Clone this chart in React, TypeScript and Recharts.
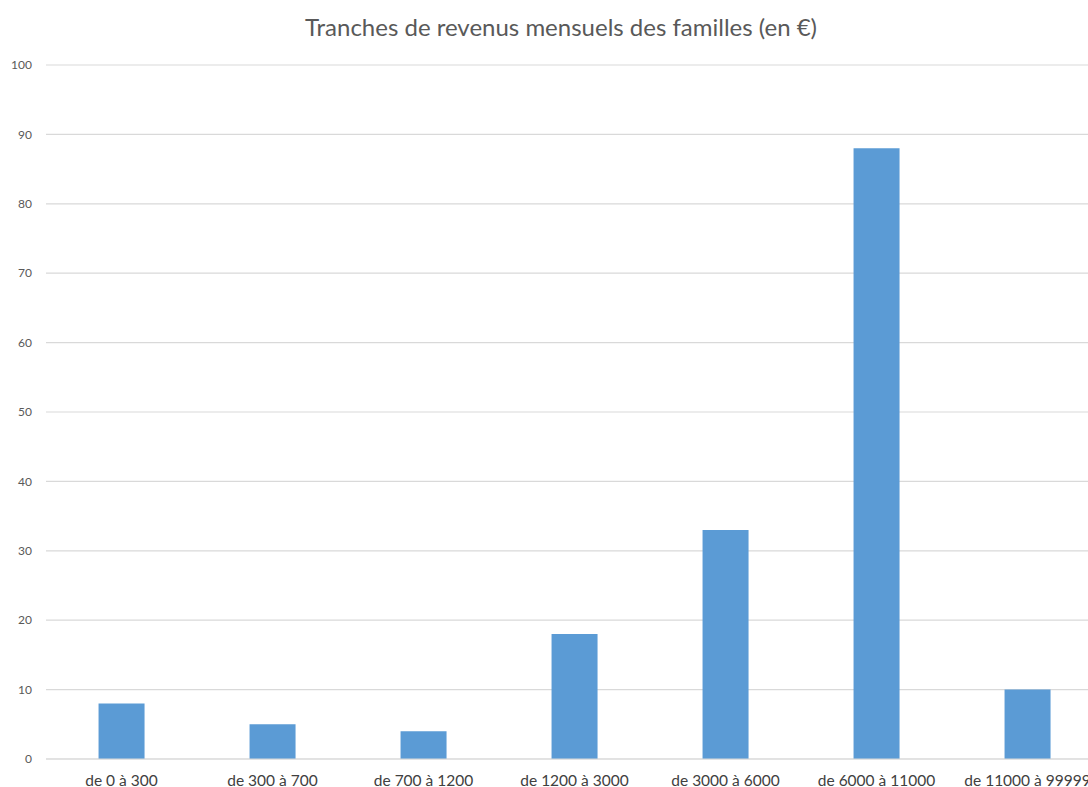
import React from "react";
import { BarChart, Bar, XAxis, YAxis, CartesianGrid } from "recharts";

const categories = [
  "de 0 à 300",
  "de 300 à 700",
  "de 700 à 1200",
  "de 1200 à 3000",
  "de 3000 à 6000",
  "de 6000 à 11000",
  "de 11000 à 99999",
];
const values = [8, 5, 4, 18, 33, 88, 10];
const yTicks = [0, 10, 20, 30, 40, 50, 60, 70, 80, 90, 100];
const title = "Tranches de revenus mensuels des familles (en €)";

const data = categories.map((c, i) => ({ name: c, value: values[i] }));

const FONT = "Lato, 'Open Sans', sans-serif";

export default function App() {
  return (
    <div
      style={{
        position: "absolute",
        left: 0,
        top: 0,
        width: 1088,
        height: 787,
        overflow: "hidden",
        background: "#fff",
        fontFamily: FONT,
      }}
    >
      <div
        style={{
          position: "absolute",
          left: 0,
          width: 1122,
          top: 11,
          textAlign: "center",
          fontSize: 24,
          color: "#595959",
          fontFamily: FONT,
          lineHeight: "32px",
        }}
      >
        {title}
      </div>
      <BarChart
        width={1103}
        height={787}
        data={data}
        margin={{ top: 65, right: 0, bottom: 0, left: 6 }}
        barCategoryGap="34.8%"
      >
        <CartesianGrid vertical={false} stroke="#d9d9d9" strokeWidth={1.2} />
        <XAxis
          dataKey="name"
          axisLine={{ stroke: "#d9d9d9" }}
          tickLine={false}
          tickMargin={10}
          height={28}
          interval={0}
          tick={{ fill: "#404040", fontSize: 15.5, fontFamily: FONT }}
        />
        <YAxis
          domain={[0, 100]}
          ticks={yTicks}
          width={40}
          axisLine={false}
          tickLine={false}
          tickMargin={8}
          tick={{ fill: "#595959", fontSize: 12, fontFamily: FONT }}
        />
        <Bar dataKey="value" fill="#5b9bd5" isAnimationActive={false} />
      </BarChart>
    </div>
  );
}
